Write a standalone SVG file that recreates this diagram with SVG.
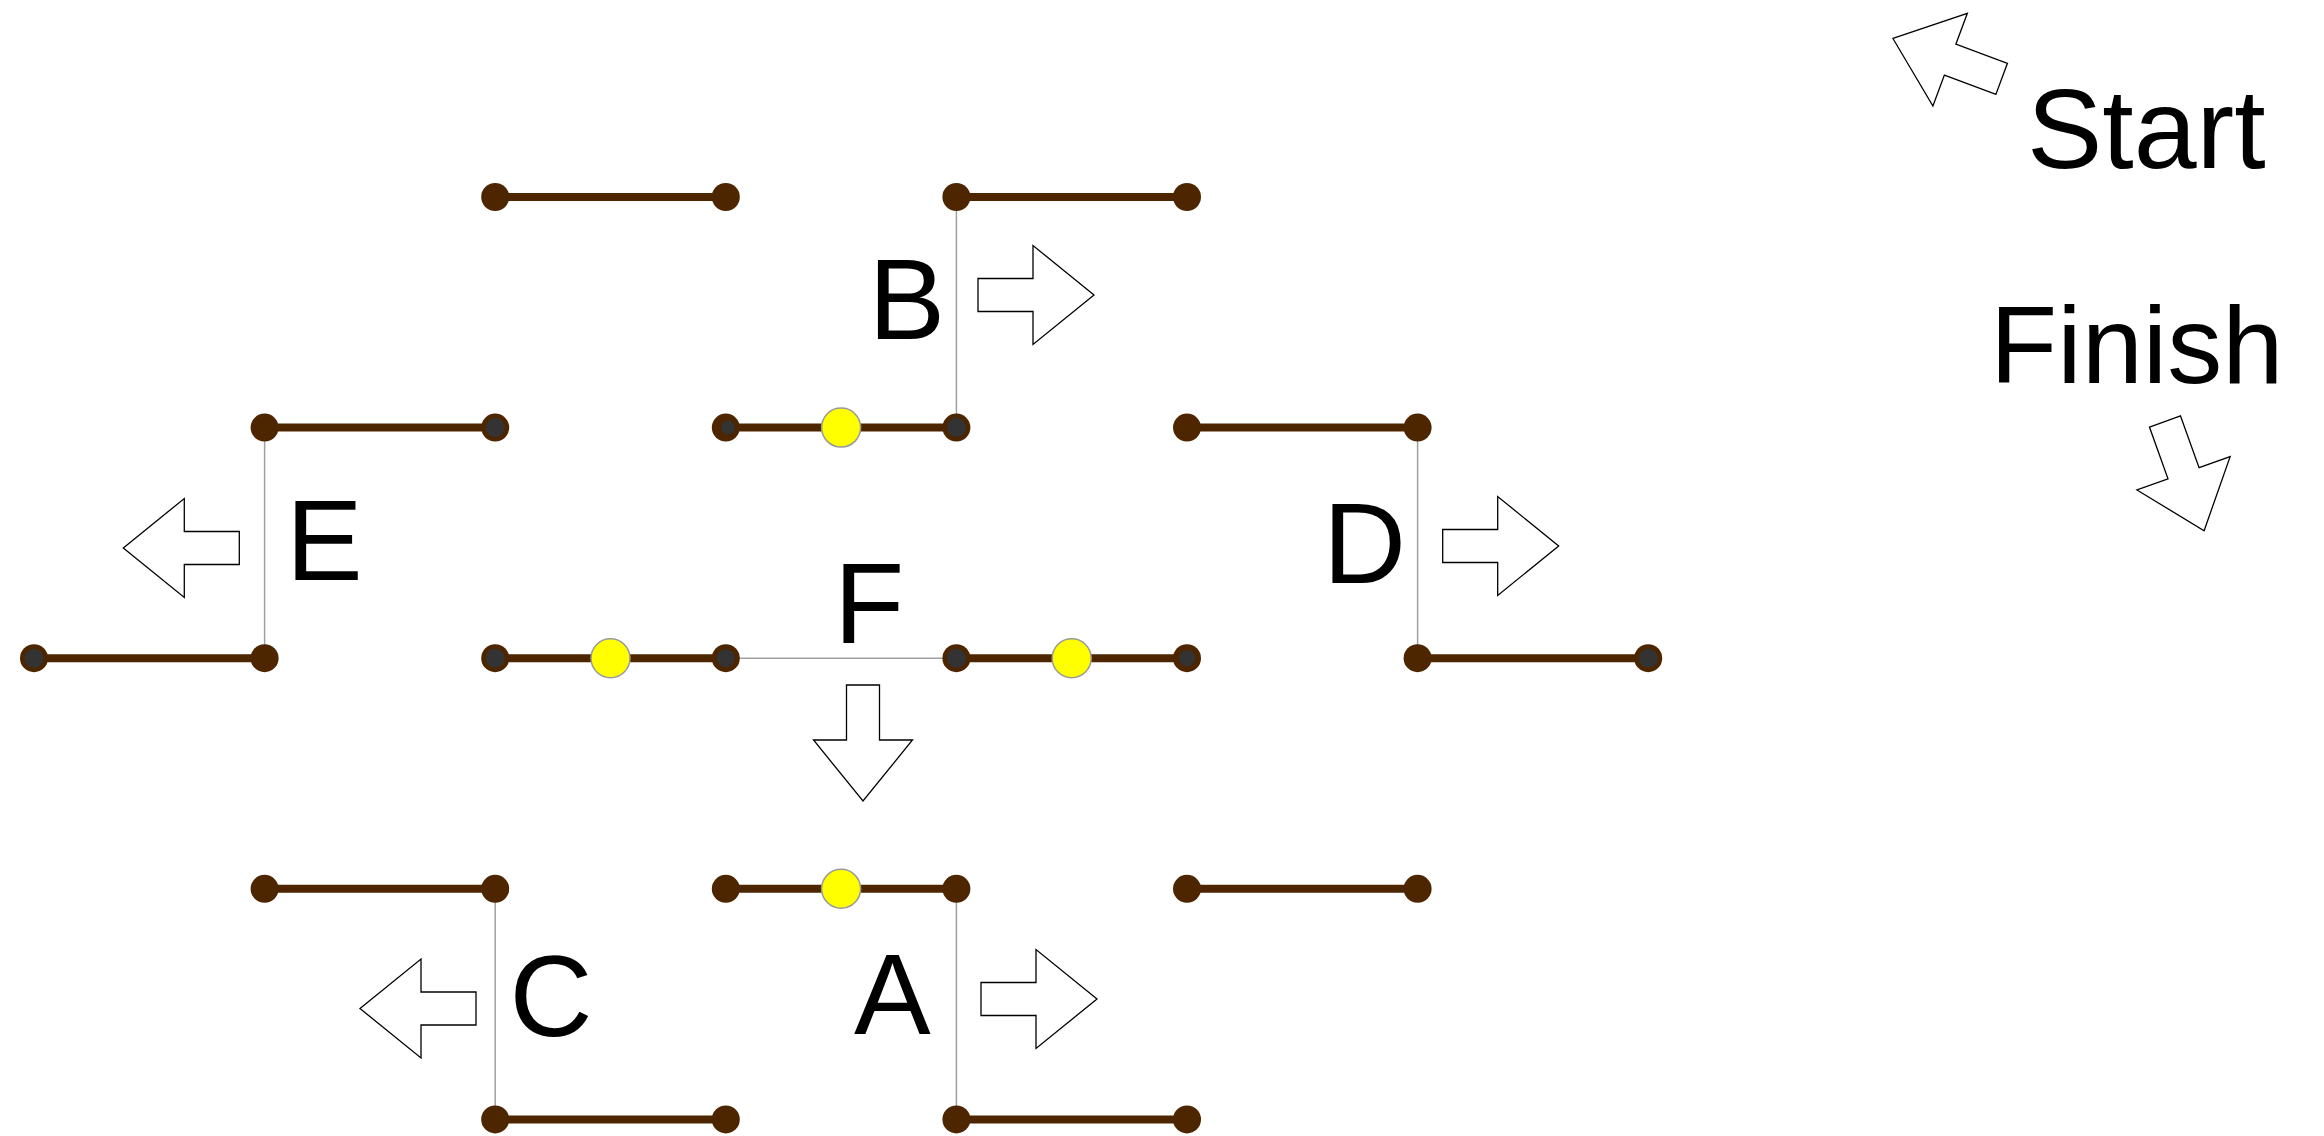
<svg xmlns="http://www.w3.org/2000/svg" width="2324" height="1136" viewBox="0 0 2324 1136">
<style>
.seg{stroke:#4d2600;stroke-width:8;stroke-linecap:butt}
.link{stroke:#a0a0a0;stroke-width:1.5;fill:none}
.dot{fill:#4d2600}
.core{fill:#333333}
.bead{fill:#ffff00;stroke:#999999;stroke-width:1.5}
.arr{fill:#ffffff;stroke:#000000;stroke-width:1.3;stroke-linejoin:miter}
.lbl{font-family:"Liberation Sans",Arial,sans-serif;font-size:115px;fill:#000000}
</style>
<defs>
<polygon id="arrow" class="arr" points="0,-16.5 55,-16.5 55,-49.5 116,0 55,49.5 55,16.5 0,16.5"/>
</defs>
<rect width="2324" height="1136" fill="#ffffff"/>
<g id="connectors">
<line class="link" x1="956.4" y1="197" x2="956.4" y2="427.6"/>
<line class="link" x1="264.6" y1="427.6" x2="264.6" y2="658.2"/>
<line class="link" x1="1417.6" y1="427.6" x2="1417.6" y2="658.2"/>
<line class="link" x1="725.8" y1="658.2" x2="956.4" y2="658.2"/>
<line class="link" x1="495.2" y1="888.8" x2="495.2" y2="1119.4"/>
<line class="link" x1="956.4" y1="888.8" x2="956.4" y2="1119.4"/>
</g>
<g id="segments">
<line class="seg" x1="495.2" y1="197" x2="725.8" y2="197"/>
<line class="seg" x1="956.4" y1="197" x2="1187" y2="197"/>
<line class="seg" x1="264.6" y1="427.6" x2="495.2" y2="427.6"/>
<line class="seg" x1="725.8" y1="427.6" x2="956.4" y2="427.6"/>
<line class="seg" x1="1187" y1="427.6" x2="1417.6" y2="427.6"/>
<line class="seg" x1="34" y1="658.2" x2="264.6" y2="658.2"/>
<line class="seg" x1="495.2" y1="658.2" x2="725.8" y2="658.2"/>
<line class="seg" x1="956.4" y1="658.2" x2="1187" y2="658.2"/>
<line class="seg" x1="1417.6" y1="658.2" x2="1648.2" y2="658.2"/>
<line class="seg" x1="264.6" y1="888.8" x2="495.2" y2="888.8"/>
<line class="seg" x1="725.8" y1="888.8" x2="956.4" y2="888.8"/>
<line class="seg" x1="1187" y1="888.8" x2="1417.6" y2="888.8"/>
<line class="seg" x1="495.2" y1="1119.4" x2="725.8" y2="1119.4"/>
<line class="seg" x1="956.4" y1="1119.4" x2="1187" y2="1119.4"/>
</g>
<g id="dots">
<circle class="dot" cx="495.2" cy="197" r="14"/>
<circle class="dot" cx="725.8" cy="197" r="14"/>
<circle class="dot" cx="956.4" cy="197" r="14"/>
<circle class="dot" cx="1187" cy="197" r="14"/>
<circle class="dot" cx="264.6" cy="427.6" r="14"/>
<circle class="dot" cx="495.2" cy="427.6" r="14"/><circle class="core" cx="495.2" cy="427.6" r="9.5"/>
<circle class="dot" cx="725.8" cy="427.6" r="14"/><circle class="core" cx="728" cy="427.6" r="7"/>
<circle class="dot" cx="956.4" cy="427.6" r="14"/><circle class="core" cx="956.4" cy="427.6" r="9.5"/>
<circle class="dot" cx="1187" cy="427.6" r="14"/>
<circle class="dot" cx="1417.6" cy="427.6" r="14"/>
<circle class="dot" cx="34" cy="658.2" r="14"/><circle class="core" cx="34" cy="658.2" r="9.5"/>
<circle class="dot" cx="264.6" cy="658.2" r="14"/>
<circle class="dot" cx="495.2" cy="658.2" r="14"/><circle class="core" cx="495.2" cy="658.2" r="9.5"/>
<circle class="dot" cx="725.8" cy="658.2" r="14"/><circle class="core" cx="725.8" cy="658.2" r="9"/>
<circle class="dot" cx="956.4" cy="658.2" r="14"/><circle class="core" cx="956.4" cy="658.2" r="9.5"/>
<circle class="dot" cx="1187" cy="658.2" r="14"/><circle class="core" cx="1187" cy="658.2" r="8"/>
<circle class="dot" cx="1417.6" cy="658.2" r="14"/>
<circle class="dot" cx="1648.2" cy="658.2" r="14"/><circle class="core" cx="1648.2" cy="658.2" r="9.5"/>
<circle class="dot" cx="264.6" cy="888.8" r="14"/>
<circle class="dot" cx="495.2" cy="888.8" r="14"/>
<circle class="dot" cx="725.8" cy="888.8" r="14"/>
<circle class="dot" cx="956.4" cy="888.8" r="14"/>
<circle class="dot" cx="1187" cy="888.8" r="14"/>
<circle class="dot" cx="1417.6" cy="888.8" r="14"/>
<circle class="dot" cx="495.2" cy="1119.4" r="14"/>
<circle class="dot" cx="725.8" cy="1119.4" r="14"/>
<circle class="dot" cx="956.4" cy="1119.4" r="14"/>
<circle class="dot" cx="1187" cy="1119.4" r="14"/>
</g>
<g id="beads">
<circle class="bead" cx="841.1" cy="427.6" r="19.5"/>
<circle class="bead" cx="610.5" cy="658.2" r="19.5"/>
<circle class="bead" cx="1071.7" cy="658.2" r="19.5"/>
<circle class="bead" cx="841.1" cy="888.8" r="19.5"/>
</g>
<g id="node-B">
<text class="lbl" x="868.5" y="339">B</text>
<use href="#arrow" transform="translate(978,295)"/>
</g>
<g id="node-E">
<text class="lbl" x="286" y="580">E</text>
<use href="#arrow" transform="translate(239.3,548) rotate(180)"/>
</g>
<g id="node-D">
<text class="lbl" x="1323" y="583">D</text>
<use href="#arrow" transform="translate(1442.7,546)"/>
</g>
<g id="node-F">
<text class="lbl" x="834" y="643">F</text>
<use href="#arrow" transform="translate(863,685) rotate(90)"/>
</g>
<g id="node-C">
<text class="lbl" x="509.5" y="1036">C</text>
<use href="#arrow" transform="translate(476,1008.5) rotate(180)"/>
</g>
<g id="node-A">
<text class="lbl" x="854" y="1034">A</text>
<use href="#arrow" transform="translate(981,999)"/>
</g>
<g id="node-start">
<use href="#arrow" transform="translate(2001.7,78.8) rotate(200.35)"/>
<text class="lbl" x="2027" y="168" style="font-size:113px">Start</text>
</g>
<g id="node-finish">
<text class="lbl" x="1990" y="383" style="font-size:110px">Finish</text>
<use href="#arrow" transform="translate(2165,421.5) rotate(70.3)"/>
</g>
</svg>
